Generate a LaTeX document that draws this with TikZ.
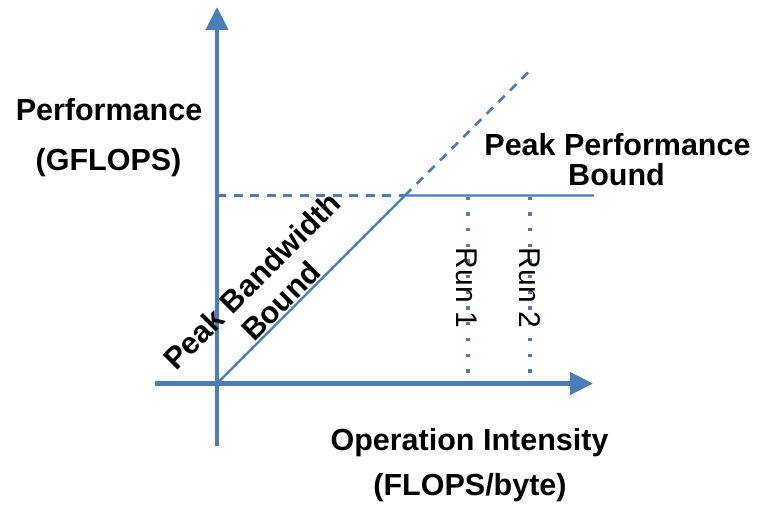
\documentclass[tikz,border=0pt]{standalone}
\usepackage{fontspec}
\setmainfont{Liberation Sans}
\usetikzlibrary{arrows.meta}
\definecolor{axisblue}{HTML}{4A7EBB}
\begin{document}
\begin{tikzpicture}[x=1pt,y=-1pt,
  axis/.style={draw=axisblue,line width=4.5pt,-{Triangle[length=23pt,width=22pt]}},
  bound/.style={draw=axisblue,line width=2.2pt},
  ext/.style={draw=axisblue,line width=2.6pt,dash pattern=on 9pt off 7.5pt},
  runline/.style={draw=axisblue,line width=3.3pt,dash pattern=on 3.3pt off 12.4pt},
  lbl/.style={font=\fontsize{30.5}{36}\selectfont\bfseries,anchor=base,inner sep=0pt},
  difflbl/.style={font=\fontsize{30.5}{36}\selectfont\bfseries,rotate=45,inner sep=0pt},
  runlbl/.style={font=\fontsize{30}{36}\selectfont,rotate=-90,inner sep=0pt}]
\useasboundingbox (0,0) rectangle (757,508);

% axes
\coordinate (O) at (217,383.5);
\coordinate (ybot) at (217,446);
\coordinate (ytop) at (217,7);
\coordinate (xleft) at (155,383.5);
\coordinate (xright) at (593,383.5);
\draw[axis] (ybot) -- (ytop);
\draw[axis] (xleft) -- (xright);

% roofline: bandwidth slope, compute roof and their extensions
\coordinate (ridge) at (405,195.5);
\coordinate (diagend) at (528,72.5);
\coordinate (roofend) at (594,195.5);
\coordinate (yroof) at (217,195.5);
\draw[bound] (O) -- (ridge) -- (roofend);
\draw[ext] (ridge) -- (diagend);
\draw[ext] (yroof) -- (ridge);

% measured runs
\coordinate (r1top) at (468,196.5);
\coordinate (r1bot) at (468,376);
\coordinate (r2top) at (530,196.5);
\coordinate (r2bot) at (530,376);
\draw[runline] (r1top) -- (r1bot);
\draw[runline] (r2top) -- (r2bot);
\node[runlbl] (run1) at (467,288) {Run 1};
\node[runlbl] (run2) at (530,288) {Run 2};

% axis and bound labels
\node[lbl] (perf) at (109,121) {Performance};
\node[lbl] (gflops) at (108.5,170) {(GFLOPS)};
\node[lbl] (opint) at (469.5,450) {Operation Intensity};
\node[lbl] (flops) at (470,495) {(FLOPS/byte)};
\node[lbl] (ppb1) at (617.5,155) {Peak Performance};
\node[lbl] (ppb2) at (616.5,185) {Bound};
\node[difflbl] (pbb1) at (252,280.5) {Peak Bandwidth};
\node[difflbl] (pbb2) at (280.5,301) {Bound};
\end{tikzpicture}
\end{document}
